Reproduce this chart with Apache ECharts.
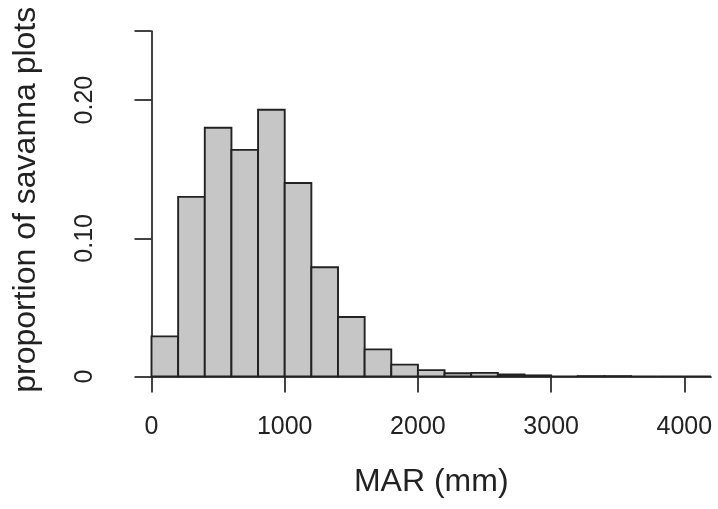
<!DOCTYPE html>
<html>
<head>
<meta charset="utf-8">
<script src="https://cdn.jsdelivr.net/npm/echarts@6/dist/echarts.min.js"></script>
<style>
html,body{margin:0;padding:0;background:#fff;}
#chart{width:718px;height:509px;}
</style>
</head>
<body>
<div id="chart"></div>
<script>
// Histogram bin edges (mm) and proportions per bin
const binStarts = [0,200,400,600,800,1000,1200,1400,1600,1800,2000,2200,2400,2600,2800,3000,3200,3400,3600,3800,4000];
const binWidth = 200;
const proportions = [0.029,0.130,0.180,0.164,0.193,0.140,0.079,0.043,0.0196,0.0086,0.0046,0.0023,0.0026,0.0015,0.0008,0,0.0003,0.0003,0,0,0];
const xTicks = [0,1000,2000,3000,4000];
const yTicks = [0,0.1,0.2,0.25];
const yLabels = [0,0.1,0.2];
const xTitle = 'MAR (mm)';
const yTitle = 'proportion of savanna plots';

const data = binStarts.map((s,i)=>[s, s+binWidth, proportions[i]]);
const ink = '#222';
const font = '"Liberation Sans", Arial, Helvetica, sans-serif';

const chart = echarts.init(document.getElementById('chart'), null, {renderer:'canvas'});
chart.setOption({
  animation:false,
  backgroundColor:'#fff',
  grid:{left:151.5, top:31, width:559.5, height:345.5},
  xAxis:{
    type:'value', min:0, max:4200,
    axisLine:{show:true, lineStyle:{color:ink, width:1.7}},
    axisTick:{show:true, customValues:xTicks, length:16, inside:false, lineStyle:{color:ink, width:1.7}},
    axisLabel:{customValues:xTicks, margin:38, fontSize:25, color:ink, fontFamily:font,
      formatter:v=>String(v)},
    splitLine:{show:false},
    name:xTitle, nameLocation:'middle', nameGap:90,
    nameTextStyle:{fontSize:32, color:ink, fontFamily:font}
  },
  yAxis:{
    type:'value', min:0, max:0.25, offset:21.5,
    axisLine:{show:true, lineStyle:{color:ink, width:1.7}},
    axisTick:{show:true, customValues:yTicks, length:17, lineStyle:{color:ink, width:1.7}},
    axisLabel:{customValues:yLabels, rotate:90, margin:32, fontSize:25, color:ink, fontFamily:font,
      formatter:v=> v===0 ? '0' : v.toFixed(2)},
    splitLine:{show:false},
    name:yTitle, nameLocation:'middle', nameGap:88,
    nameTextStyle:{fontSize:32, color:ink, fontFamily:font, padding:[0,0,0,8]}
  },
  series:[{
    type:'custom',
    data:data,
    encode:{x:[0,1], y:2},
    renderItem:function(params, api){
      const p0 = api.coord([api.value(0), api.value(2)]);
      const p1 = api.coord([api.value(1), 0]);
      return {
        type:'rect',
        shape:{x:p0[0], y:p0[1], width:p1[0]-p0[0], height:p1[1]-p0[1]},
        style:{fill:'#c6c6c6', stroke:ink, lineWidth:1.9}
      };
    }
  }]
});
</script>
</body>
</html>
